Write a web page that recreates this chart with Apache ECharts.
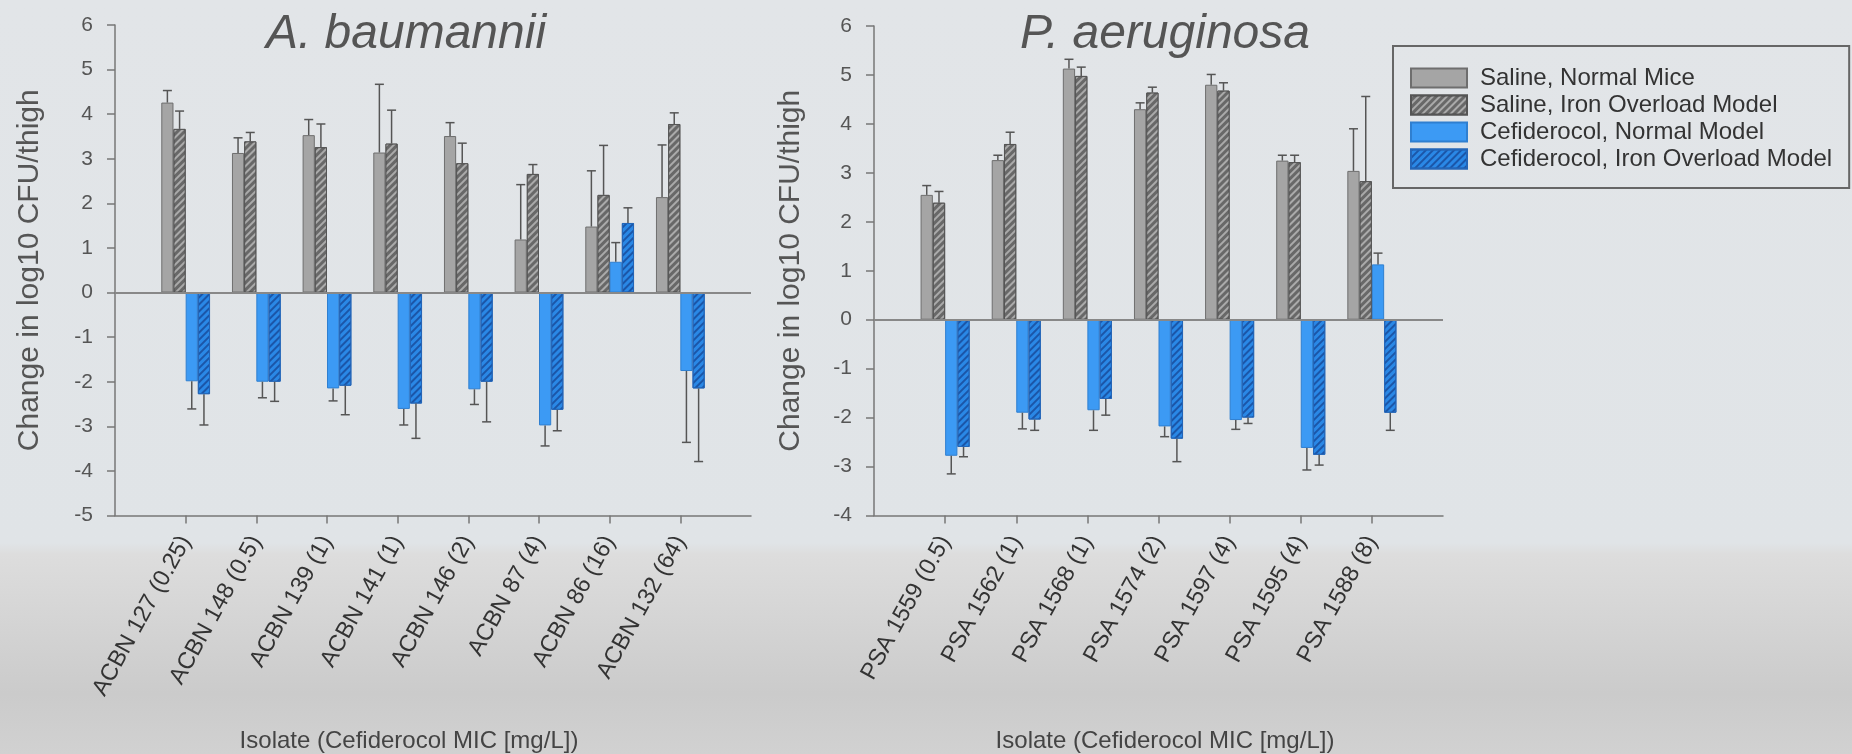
<!DOCTYPE html>
<html><head><meta charset="utf-8">
<script src="https://cdn.jsdelivr.net/npm/echarts@6/dist/echarts.min.js"></script>
<style>html,body{margin:0;padding:0;}#c{width:1852px;height:754px;}</style>
</head><body><div id="c"></div>
<script>
const seriesNames = ['Saline, Normal Mice', 'Saline, Iron Overload Model', 'Cefiderocol, Normal Model', 'Cefiderocol, Iron Overload Model'];

const catA = ['ACBN 127 (0.25)', 'ACBN 148 (0.5)', 'ACBN 139 (1)', 'ACBN 141 (1)', 'ACBN 146 (2)', 'ACBN 87 (4)', 'ACBN 86 (16)', 'ACBN 132 (64)'];
const salineNormalA = [4.26, 3.13, 3.53, 3.14, 3.51, 1.19, 1.48, 2.14];
const salineIronA   = [3.67, 3.39, 3.26, 3.34, 2.90, 2.66, 2.19, 3.78];
const cefNormalA    = [-1.99, -2.00, -2.15, -2.61, -2.17, -2.98, 0.69, -1.76];
const cefIronA      = [-2.28, -2.00, -2.09, -2.49, -2.00, -2.63, 1.56, -2.15];
const salineNormalErrA = [4.53, 3.47, 3.88, 4.67, 3.81, 2.42, 2.73, 3.31];
const salineIronErrA   = [4.07, 3.59, 3.78, 4.09, 3.35, 2.87, 3.30, 4.03];
const cefNormalErrA    = [-2.61, -2.36, -2.43, -2.97, -2.51, -3.44, 1.12, -3.36];
const cefIronErrA      = [-2.97, -2.44, -2.74, -3.27, -2.90, -3.10, 1.90, -3.79];

const catP = ['PSA 1559 (0.5)', 'PSA 1562 (1)', 'PSA 1568 (1)', 'PSA 1574 (2)', 'PSA 1597 (4)', 'PSA 1595 (4)', 'PSA 1588 (8)'];
const salineNormalP = [2.55, 3.26, 5.13, 4.30, 4.80, 3.25, 3.04];
const salineIronP   = [2.39, 3.59, 4.98, 4.64, 4.68, 3.22, 2.83];
const cefNormalP    = [-2.78, -1.90, -1.85, -2.18, -2.05, -2.62, 1.13];
const cefIronP      = [-2.60, -2.04, -1.62, -2.43, -2.00, -2.76, -1.90];
const salineNormalErrP = [2.74, 3.36, 5.32, 4.43, 5.01, 3.36, 3.90];
const salineIronErrP   = [2.62, 3.83, 5.16, 4.75, 4.84, 3.36, 4.56];
const cefNormalErrP    = [-3.15, -2.23, -2.26, -2.39, -2.24, -3.07, 1.36];
const cefIronErrP      = [-2.80, -2.26, -1.95, -2.90, -2.12, -2.97, -2.26];

const yTicksA = {min: -5, max: 6, interval: 1};
const yTicksP = {min: -4, max: 6, interval: 1};

const FONT = 'Liberation Sans';
const CAT_GAP = 0.31;

const styles = [
  {color: '#a5a5a5', borderColor: '#6e6e6e', borderWidth: 1},
  {color: '#686868', borderColor: '#555', borderWidth: 1,
   decal: {symbol: 'rect', symbolSize: 1, dashArrayX: [1, 0], dashArrayY: [2, 3], rotation: -Math.PI / 4, color: '#aaaaaa'}},
  {color: '#3c9af4', borderColor: '#2f7fd0', borderWidth: 1},
  {color: '#2a88e6', borderColor: '#2466b8', borderWidth: 1,
   decal: {symbol: 'rect', symbolSize: 1, dashArrayX: [1, 0], dashArrayY: [2, 3], rotation: -Math.PI / 4, color: '#1b56a8'}}
];

function pad(arr) { return ['-'].concat(arr).concat(['-']); }
function padCat(arr) { return [''].concat(arr).concat(['']); }

function errRender(k) {
  return function (params, api) {
    const xi = api.value(0), v = api.value(1), e = api.value(2);
    const band = api.size([1, 0])[0];
    const bw = band * (1 - CAT_GAP) / 4;
    const off = (k - 1.5) * bw;
    const p0 = api.coord([xi, v]);
    const p1 = api.coord([xi, e]);
    const x = p0[0] + off;
    const st = {stroke: '#555', lineWidth: 1.5};
    return {type: 'group', children: [
      {type: 'line', shape: {x1: x, y1: p0[1], x2: x, y2: p1[1]}, style: st},
      {type: 'line', shape: {x1: x - 4.5, y1: p1[1], x2: x + 4.5, y2: p1[1]}, style: st}
    ]};
  };
}

function buildSeries(axisIdx, vals, errs) {
  const out = [];
  vals.forEach((arr, k) => {
    const s = {
      name: seriesNames[k], type: 'bar', xAxisIndex: axisIdx, yAxisIndex: axisIdx,
      data: pad(arr), barGap: '0%', barCategoryGap: (CAT_GAP * 100) + '%',
      itemStyle: styles[k], z: 2, animation: false
    };
    if (k === 0) {
      s.markLine = {silent: true, symbol: 'none', animation: false,
        lineStyle: {color: '#888', width: 2, type: 'solid'}, label: {show: false},
        data: [{yAxis: 0}]};
    }
    out.push(s);
  });
  errs.forEach((arr, k) => {
    out.push({
      type: 'custom', xAxisIndex: axisIdx, yAxisIndex: axisIdx, z: 3, animation: false,
      renderItem: errRender(k),
      encode: {x: 0, y: [1, 2]},
      data: arr.map((e, i) => [i + 1, vals[k][i], e])
    });
  });
  return out;
}

function xAxisCfg(cats, gi) {
  const n = cats.length + 1;
  return {
    type: 'category', gridIndex: gi, data: padCat(cats), boundaryGap: false,
    axisLine: {onZero: false, lineStyle: {color: '#777', width: 1.5}},
    axisTick: {length: 8, lineStyle: {color: '#777', width: 1.5}, interval: (i) => i > 0 && i < n},
    axisLabel: {interval: 0, rotate: 61, fontSize: 23.5, color: '#333', fontFamily: FONT, margin: 22},
    splitLine: {show: false}
  };
}
function yAxisCfg(t, gi, gap) {
  return {
    type: 'value', gridIndex: gi, min: t.min, max: t.max, interval: t.interval,
    name: 'Change in log10 CFU/thigh', nameLocation: 'middle', nameGap: gap,
    nameTextStyle: {fontSize: 30, color: '#555', fontFamily: FONT},
    axisLine: {show: true, lineStyle: {color: '#777', width: 1.5}},
    axisTick: {show: true, length: 8, lineStyle: {color: '#777', width: 1.5}},
    axisLabel: {fontSize: 21, color: '#555', fontFamily: FONT, margin: 22},
    splitLine: {show: false}
  };
}

const chart = echarts.init(document.getElementById('c'), null, {renderer: 'canvas'});
const titleStyle = {fontStyle: 'italic', fontSize: 48, fontWeight: 'normal', color: '#555', fontFamily: FONT};
const axisNameStyle = {fontSize: 24, fontWeight: 'normal', color: '#444', fontFamily: FONT};

chart.setOption({
  backgroundColor: {type: 'linear', x: 0, y: 0, x2: 0, y2: 1, colorStops: [
    {offset: 0, color: '#e2e5e8'}, {offset: 0.72, color: '#e0e4e7'}, {offset: 0.735, color: '#dddddd'},
    {offset: 0.92, color: '#cbcbcb'}, {offset: 1, color: '#d1d1d1'}]},
  animation: false,
  title: [
    {text: 'A. baumannii', left: 401, top: 6, textAlign: 'center', textStyle: titleStyle},
    {text: 'P. aeruginosa', left: 1160, top: 6, textAlign: 'center', textStyle: titleStyle},
    {text: 'Isolate (Cefiderocol MIC [mg/L])', left: 404, top: 724, textAlign: 'center', textStyle: axisNameStyle},
    {text: 'Isolate (Cefiderocol MIC [mg/L])', left: 1160, top: 724, textAlign: 'center', textStyle: axisNameStyle}
  ],
  legend: {
    data: seriesNames, orient: 'vertical', left: 1393, top: 46,
    padding: [20, 17, 17, 17], itemGap: 3, itemWidth: 56, itemHeight: 19,
    borderColor: '#666', borderWidth: 2, icon: 'rect',
    textStyle: {fontSize: 24, lineHeight: 24, color: '#333', fontFamily: FONT, padding: [0, 0, 0, 8]}
  },
  grid: [
    {left: 115, right: 1852 - 751, top: 25, bottom: 754 - 515.5},
    {left: 874, right: 1852 - 1443, top: 26, bottom: 754 - 515.5}
  ],
  xAxis: [xAxisCfg(catA, 0), xAxisCfg(catP, 1)],
  yAxis: [yAxisCfg(yTicksA, 0, 70), yAxisCfg(yTicksP, 1, 68)],
  series: buildSeries(0, [salineNormalA, salineIronA, cefNormalA, cefIronA], [salineNormalErrA, salineIronErrA, cefNormalErrA, cefIronErrA])
    .concat(buildSeries(1, [salineNormalP, salineIronP, cefNormalP, cefIronP], [salineNormalErrP, salineIronErrP, cefNormalErrP, cefIronErrP]))
});
</script>
</body></html>
